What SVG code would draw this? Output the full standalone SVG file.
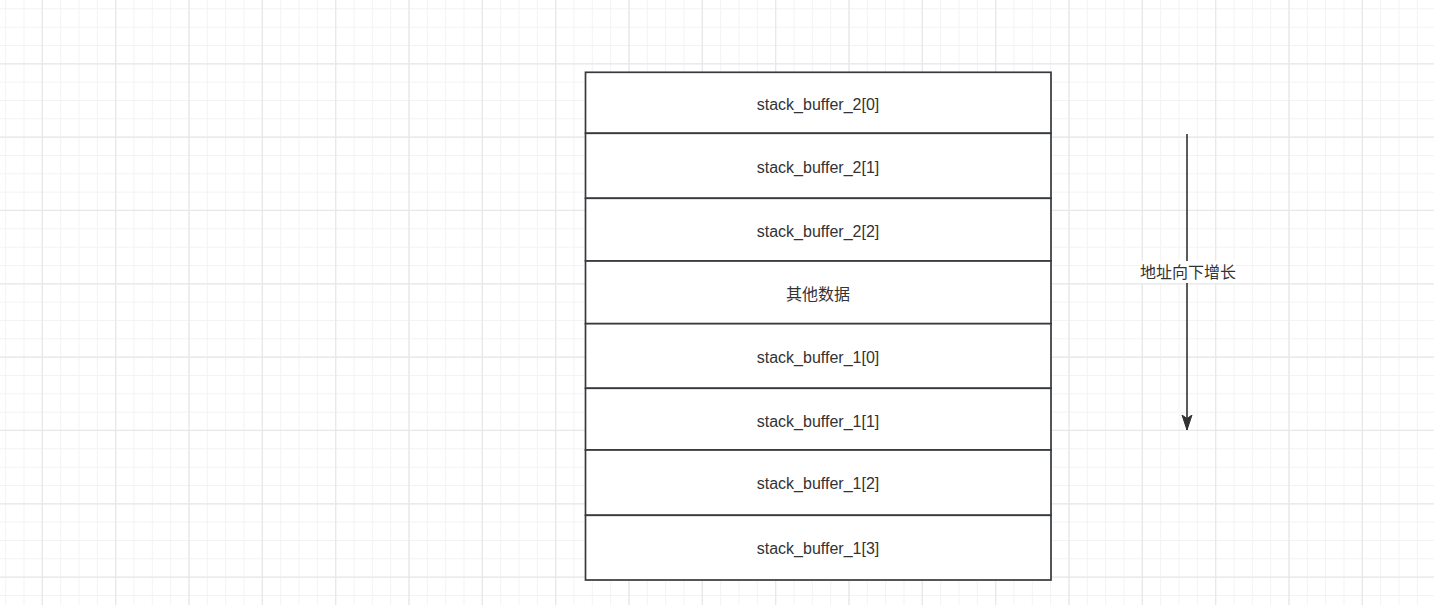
<svg xmlns="http://www.w3.org/2000/svg" width="1434" height="605" viewBox="0 0 1434 605">
<style>
.minor{fill:none;stroke:#f3f3f3;stroke-width:1}
.major{fill:none;stroke:#e8e8e8;stroke-width:1.3}
.cell{fill:#ffffff;stroke:#36393d;stroke-width:1.7}
.lbl{font-family:"Liberation Sans","Noto Sans CJK SC",sans-serif;font-size:16px;fill:#333333;text-anchor:middle}
.cjk{font-family:"Noto Sans CJK SC","Liberation Sans",sans-serif;font-size:16px;fill:#333333;text-anchor:middle}
.conn{fill:none;stroke:#333333;stroke-width:1.6}
</style>
<defs>
<marker id="arrow" markerUnits="userSpaceOnUse" viewBox="0 0 16 12" refX="15" refY="6" markerWidth="16" markerHeight="12" orient="auto">
<path d="M15 6 L0 1 L3.5 6 L0 11 Z" fill="#333333" stroke="#333333" stroke-width="1"/>
</marker>
</defs>
<rect x="0" y="0" width="1434" height="605" fill="#ffffff"/>
<g id="grid">
<path class="minor" d="M5.667 0v605m18.333-605v605m18.333-605v605m18.333-605v605m18.333-605v605m18.333-605v605m18.333-605v605m18.333-605v605m18.333-605v605m18.333-605v605m18.333-605v605
m18.333-605v605m18.333-605v605m18.333-605v605m18.333-605v605m18.333-605v605m18.333-605v605m18.333-605v605m18.333-605v605m18.333-605v605
m18.333-605v605m18.333-605v605m18.333-605v605m18.333-605v605m18.333-605v605m18.333-605v605m18.333-605v605m18.333-605v605m18.333-605v605m18.333-605v605
m18.333-605v605m18.333-605v605m18.333-605v605m18.333-605v605m18.333-605v605m18.333-605v605m18.333-605v605m18.333-605v605m18.333-605v605m18.333-605v605
m18.333-605v605m18.333-605v605m18.333-605v605m18.333-605v605m18.333-605v605m18.333-605v605m18.333-605v605m18.333-605v605m18.333-605v605m18.333-605v605
m18.333-605v605m18.333-605v605m18.333-605v605m18.333-605v605m18.333-605v605m18.333-605v605m18.333-605v605m18.333-605v605m18.333-605v605m18.333-605v605
m18.333-605v605m18.333-605v605m18.333-605v605m18.333-605v605m18.333-605v605m18.333-605v605m18.333-605v605m18.333-605v605m18.333-605v605m18.333-605v605
m18.333-605v605m18.333-605v605m18.333-605v605m18.333-605v605m18.333-605v605m18.333-605v605m18.333-605v605m18.333-605v605"/>
<path class="minor" d="M0 8.8h1434m-1434 18.333h1434m-1434 18.333h1434m-1434 18.333h1434m-1434 18.333h1434m-1434 18.333h1434m-1434 18.333h1434m-1434 18.333h1434m-1434 18.333h1434m-1434 18.333h1434m-1434 18.333h1434
m-1434 18.333h1434m-1434 18.333h1434m-1434 18.333h1434m-1434 18.333h1434m-1434 18.333h1434m-1434 18.333h1434m-1434 18.333h1434m-1434 18.333h1434m-1434 18.333h1434m-1434 18.333h1434
m-1434 18.333h1434m-1434 18.333h1434m-1434 18.333h1434m-1434 18.333h1434m-1434 18.333h1434m-1434 18.333h1434m-1434 18.333h1434m-1434 18.333h1434m-1434 18.333h1434m-1434 18.333h1434
m-1434 18.333h1434m-1434 18.333h1434"/>
<path class="major" d="M42.333 0v605m73.333-605v605m73.333-605v605m73.333-605v605m73.333-605v605m73.333-605v605m73.333-605v605m73.333-605v605m73.333-605v605m73.333-605v605
m73.333-605v605m73.333-605v605m73.333-605v605m73.333-605v605m73.333-605v605m73.333-605v605m73.333-605v605m73.333-605v605m73.333-605v605"/>
<path class="major" d="M0 63.8h1434m-1434 73.333h1434m-1434 73.333h1434m-1434 73.333h1434m-1434 73.333h1434m-1434 73.333h1434m-1434 73.333h1434m-1434 73.333h1434"/>
</g>
<g id="node-sb2-0"><rect class="cell" x="585.5" y="72.3" width="465.5" height="61"/><text class="lbl" x="818" y="110">stack_buffer_2[0]</text></g>
<g id="node-sb2-1"><rect class="cell" x="585.5" y="133.3" width="465.5" height="65"/><text class="lbl" x="818" y="173">stack_buffer_2[1]</text></g>
<g id="node-sb2-2"><rect class="cell" x="585.5" y="198.3" width="465.5" height="62.7"/><text class="lbl" x="818" y="236.5">stack_buffer_2[2]</text></g>
<g id="node-other"><rect class="cell" x="585.5" y="261" width="465.5" height="62.7"/><text class="cjk" x="818" y="299.5">其他数据</text></g>
<g id="node-sb1-0"><rect class="cell" x="585.5" y="323.7" width="465.5" height="64.6"/><text class="lbl" x="818" y="363">stack_buffer_1[0]</text></g>
<g id="node-sb1-1"><rect class="cell" x="585.5" y="388.3" width="465.5" height="61.7"/><text class="lbl" x="818" y="426.5">stack_buffer_1[1]</text></g>
<g id="node-sb1-2"><rect class="cell" x="585.5" y="450" width="465.5" height="65.3"/><text class="lbl" x="818" y="488.5">stack_buffer_1[2]</text></g>
<g id="node-sb1-3"><rect class="cell" x="585.5" y="515.3" width="465.5" height="64.7"/><text class="lbl" x="818" y="553.5">stack_buffer_1[3]</text></g>
<g id="connectors">
<line class="conn" x1="1187" y1="134" x2="1187" y2="430" marker-end="url(#arrow)"/>
<rect x="1140" y="261" width="96" height="22" fill="#ffffff"/>
<text class="cjk" x="1188" y="277.5">地址向下增长</text>
</g>
</svg>
